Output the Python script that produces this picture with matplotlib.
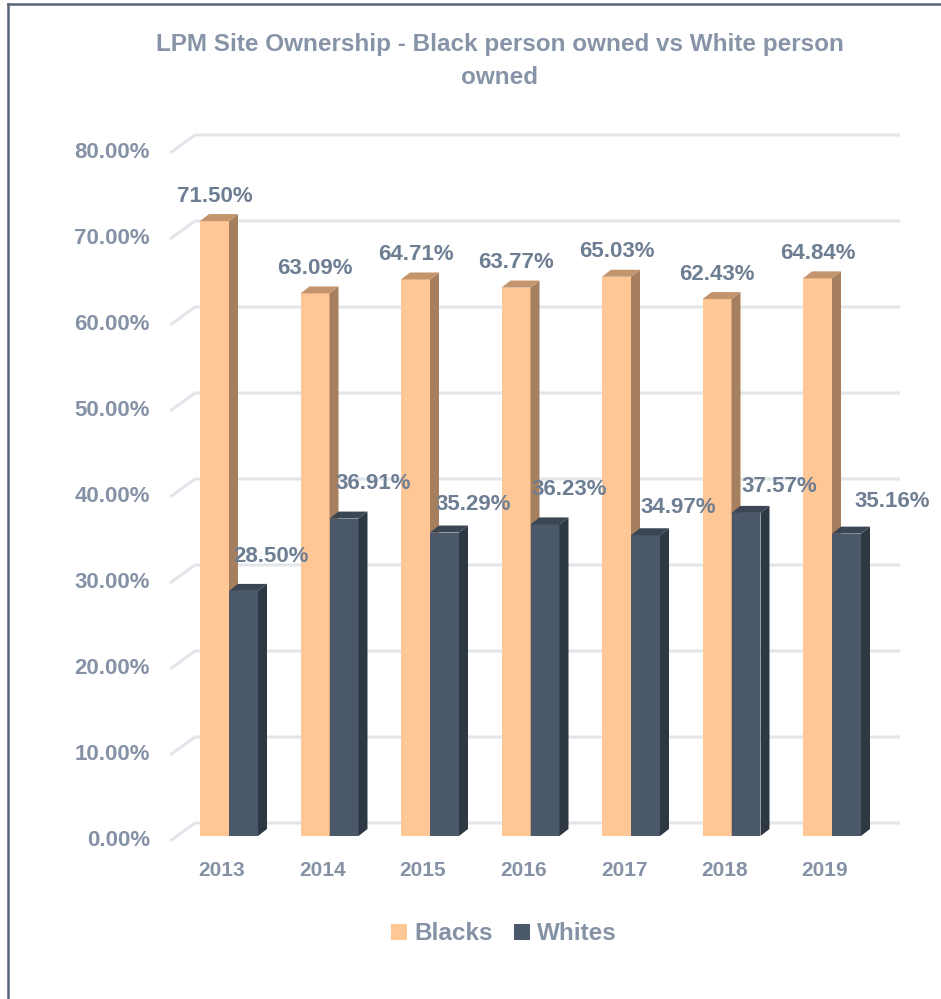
import matplotlib
matplotlib.use('Agg')
import matplotlib.pyplot as plt
from matplotlib.patches import Polygon, Patch
from matplotlib.lines import Line2D

# data
years = ['2013', '2014', '2015', '2016', '2017', '2018', '2019']
blacks = [71.50, 63.09, 64.71, 63.77, 65.03, 62.43, 64.84]
whites = [28.50, 36.91, 35.29, 36.23, 34.97, 37.57, 35.16]
yticks = [0, 10, 20, 30, 40, 50, 60, 70, 80]

# label nudges for the Whites series, in pixels (dx, dy)
white_lab_off = [(28, 34), (29, 35), (29, 28), (24, 35), (33, 28), (33, 26), (46, 32)]

# no narrow Arial here, so plain Liberation Sans a bit smaller
plt.rcParams['font.family'] = ['Liberation Sans', 'DejaVu Sans']
plt.rcParams['font.weight'] = 'bold'

W, H = 941, 999
fig = plt.figure(figsize=(W / 100, H / 100), dpi=100)

# plot area in pixels (front plane)
ux, uy = 100.5, 8.6          # px per category, px per percent
x0_px, bot_px = 170, 836
XMIN = -(229 - x0_px) / ux
XMAX = XMIN + 705 / ux
ax = fig.add_axes([x0_px / W, 1 - bot_px / H, 705 / W, 80 * uy / H])
ax.set_xlim(XMIN, XMAX)
ax.set_ylim(0, 80)
ax.axis('off')

def px_x(p):
    return p / ux

def px_y(p):
    return p / uy

grid_c = '#E2E5EA'
val_c = '#6D7E93'
axis_c = '#8592A6'

# back wall gridlines with slanted side wall segment
for v in yticks:
    ax.plot([XMIN, XMIN + px_x(25), XMAX + px_x(25)],
            [v - px_y(5), v + px_y(13), v + px_y(13)],
            color=grid_c, lw=2.2, clip_on=False, zorder=0, solid_capstyle='butt')
    ax.text(XMIN - px_x(20), v - px_y(4), f'{v:.2f}%', ha='right', va='center',
            fontsize=16, color=axis_c, clip_on=False)

BW = px_x(29)
DX, DY = px_x(9), px_y(7)

def bar3d(xl, h, front, side, top, z):
    ax.add_patch(Polygon([(xl, 0), (xl + BW, 0), (xl + BW, h), (xl, h)],
                         closed=True, fc=front, ec='none', zorder=z, clip_on=False))
    ax.add_patch(Polygon([(xl + BW, 0), (xl + BW + DX, DY), (xl + BW + DX, h + DY), (xl + BW, h)],
                         closed=True, fc=side, ec='none', zorder=z, clip_on=False))
    ax.add_patch(Polygon([(xl, h), (xl + BW, h), (xl + BW + DX, h + DY), (xl + DX, h + DY)],
                         closed=True, fc=top, ec='none', zorder=z, clip_on=False))

for i, (b, w) in enumerate(zip(blacks, whites)):
    bar3d(i - BW, b, '#FFC796', '#A67F5E', '#C4946D', 2)
    bar3d(i, w, '#4A5869', '#2E3843', '#3B4654', 3)
    ax.text(i - BW / 2, b + px_y(25), f'{b:.2f}%', ha='center', va='center',
            fontsize=16, color=val_c, zorder=5, clip_on=False)
    odx, ody = white_lab_off[i]
    ax.text(i + BW / 2 + px_x(odx), w + px_y(ody), f'{w:.2f}%', ha='center', va='center',
            fontsize=16, color=val_c, zorder=5, clip_on=False)
    ax.text(i - px_x(7), -px_y(34), years[i], ha='center', va='center',
            fontsize=15, color=axis_c, clip_on=False)

# title
fig.text(500 / W, 1 - 61 / H, 'LPM Site Ownership - Black person owned vs White person\nowned',
         ha='center', va='center', fontsize=17.5, color='#8794A8', linespacing=1.6)

# legend
handles = [Patch(fc='#FFC796', ec='none', label='Blacks'),
           Patch(fc='#4A5869', ec='none', label='Whites')]
leg = fig.legend(handles=handles, loc='center', bbox_to_anchor=(504 / W, 1 - 934 / H),
                 ncol=2, frameon=False, fontsize=17.5, handlelength=0.65, handleheight=0.65,
                 handletextpad=0.3, columnspacing=0.9)
for t in leg.get_texts():
    t.set_color(axis_c)

# outer frame (left and top edges visible)
frame_c = '#56647A'
fig.add_artist(Line2D([8 / W, 8 / W], [0, 1 - 4 / H], transform=fig.transFigure,
                      color=frame_c, lw=1.8))
fig.add_artist(Line2D([8 / W, 1], [1 - 4 / H, 1 - 4 / H], transform=fig.transFigure,
                      color=frame_c, lw=1.8))

fig.savefig('out.png', dpi=100)
